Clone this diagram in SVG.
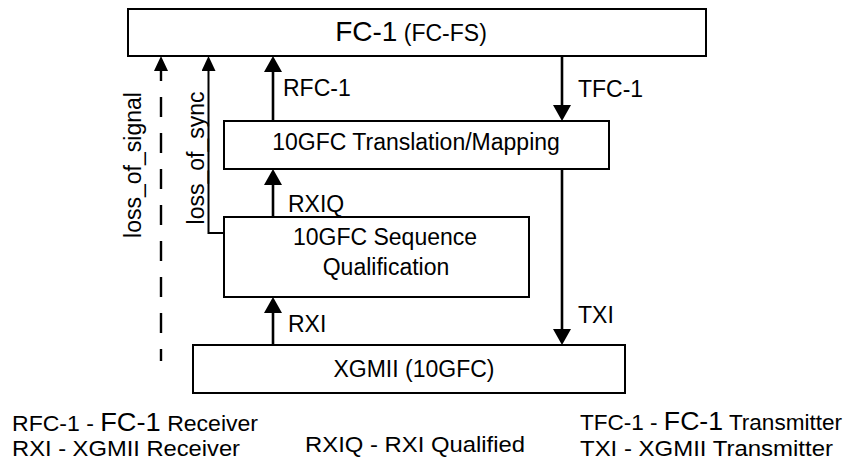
<svg xmlns="http://www.w3.org/2000/svg" width="856" height="465" viewBox="0 0 856 465">
<style>
  .box { fill: #ffffff; stroke: #000000; stroke-width: 2; }
  .t { font-family: "Liberation Sans", Arial, sans-serif; font-size: 23px; fill: #000000; }
  .lg { font-size: 22px; }
  .big { font-size: 28px; }
  .lbig { font-size: 26px; }
  .thick { fill: none; stroke: #000000; stroke-width: 2.6; }
  .thin { fill: none; stroke: #000000; stroke-width: 2; }
  .dash { fill: none; stroke: #000000; stroke-width: 2.4; stroke-dasharray: 20 16; stroke-dashoffset: 8; }
</style>
<defs>
  <marker id="ah" markerUnits="userSpaceOnUse" viewBox="0 0 16 18" refX="0" refY="9" markerWidth="16" markerHeight="18" orient="auto">
    <path d="M0,0 L16,9 L0,18 z" fill="#000000"/>
  </marker>
  <marker id="ahs" markerUnits="userSpaceOnUse" viewBox="0 0 15 14" refX="0" refY="7" markerWidth="15" markerHeight="14" orient="auto">
    <path d="M0,0 L15,7 L0,14 z" fill="#000000"/>
  </marker>
</defs>
<rect width="856" height="465" fill="#ffffff"/>

<g id="connectors">
  <path class="dash" d="M161,361 L161,71" marker-end="url(#ahs)"/>
  <path class="thin" d="M224,233 L208.5,233 L208.5,71" marker-end="url(#ahs)"/>
  <path class="thick" d="M273,121 L273,72" marker-end="url(#ah)"/>
  <path class="thick" d="M562,56 L562,105" marker-end="url(#ah)"/>
  <path class="thick" d="M273,217 L273,185" marker-end="url(#ah)"/>
  <path class="thick" d="M273,345 L273,313" marker-end="url(#ah)"/>
  <path class="thick" d="M562,169 L562,329" marker-end="url(#ah)"/>
  <text class="t" x="283" y="96">RFC-1</text>
  <text class="t" x="578" y="97">TFC-1</text>
  <text class="t" x="288" y="212">RXIQ</text>
  <text class="t" x="288" y="332">RXI</text>
  <text class="t" x="578" y="323">TXI</text>
  <text class="t" transform="translate(141,165) rotate(-90)" text-anchor="middle">loss_of_signal</text>
  <text class="t" transform="translate(204,158) rotate(-90)" text-anchor="middle">loss_of_sync</text>
</g>

<g id="fc1">
  <rect class="box" x="128" y="9" width="578" height="47"/>
  <text class="t" x="411" y="41" text-anchor="middle"><tspan class="big">FC-1</tspan> (FC-FS)</text>
</g>

<g id="translation">
  <rect class="box" x="224" y="121" width="385" height="48"/>
  <text class="t" x="416" y="150" text-anchor="middle">10GFC Translation/Mapping</text>
</g>

<g id="sequence">
  <rect class="box" x="224" y="217" width="305" height="80"/>
  <text class="t" x="385" y="245" text-anchor="middle">10GFC Sequence</text>
  <text class="t" x="386" y="275" text-anchor="middle">Qualification</text>
</g>

<g id="xgmii">
  <rect class="box" x="193" y="345" width="432" height="48"/>
  <text class="t" x="414" y="377" text-anchor="middle">XGMII (10GFC)</text>
</g>

<g id="legend">
  <text class="t lg" x="12" y="431" textLength="246" lengthAdjust="spacingAndGlyphs">RFC-1 - <tspan class="lbig">FC-1</tspan> Receiver</text>
  <text class="t lg" x="12" y="456" textLength="228" lengthAdjust="spacingAndGlyphs">RXI - XGMII Receiver</text>
  <text class="t lg" x="305" y="452" textLength="220" lengthAdjust="spacingAndGlyphs">RXIQ - RXI Qualified</text>
  <text class="t lg" x="580" y="430" textLength="262" lengthAdjust="spacingAndGlyphs">TFC-1 - <tspan class="lbig">FC-1</tspan> Transmitter</text>
  <text class="t lg" x="580" y="456" textLength="253" lengthAdjust="spacingAndGlyphs">TXI - XGMII Transmitter</text>
</g>
</svg>
